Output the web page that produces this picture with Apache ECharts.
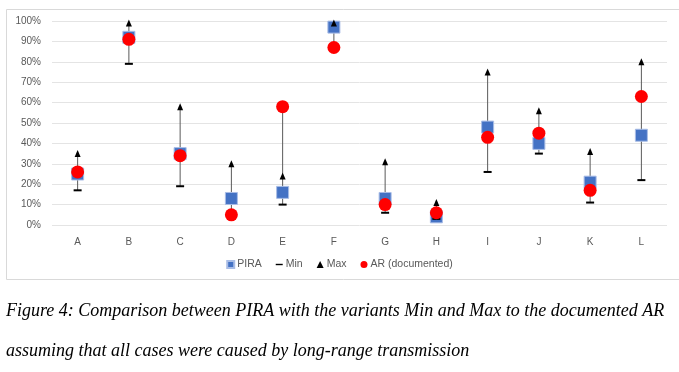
<!DOCTYPE html>
<html><head><meta charset="utf-8">
<script src="https://cdn.jsdelivr.net/npm/echarts@6/dist/echarts.min.js"></script>
<style>html,body{margin:0;padding:0;background:#fff}#c{width:679px;height:372px}</style>
</head><body><div id="c"></div>
<script>
var categories = ['A','B','C','D','E','F','G','H','I','J','K','L'];
var piraValues = [25, 92, 35, 13, 16, 97, 13, 4, 48, 40, 21, 44];
var minValues  = [17, 79, 19, 5, 10, 87, 6, 3, 26, 35, 11, 22];
var maxValues  = [35, 99, 58, 30, 24, 99, 31, 11, 75, 56, 36, 80];
var arValues   = [26, 91, 34, 5, 58, 87, 10, 6, 43, 45, 17, 63];
var yTicks = [0,10,20,30,40,50,60,70,80,90,100];

var hiLo = categories.map(function(c, i){
  var v = [piraValues[i], minValues[i], maxValues[i], arValues[i]];
  return [i, Math.min.apply(null, v), Math.max.apply(null, v)];
});

var chart = echarts.init(document.getElementById('c'));
var lab = {color:'#595959', fontFamily:'Liberation Sans', fontSize:10};
chart.setOption({
  animation:false,
  grid:{left:52, right:12, top:21, bottom:147},
  xAxis:{type:'category', data:categories, boundaryGap:true,
    axisLine:{show:false}, axisTick:{show:false},
    axisLabel:Object.assign({margin:12}, lab)},
  yAxis:{type:'value', min:yTicks[0], max:yTicks[yTicks.length-1], interval:10,
    axisLine:{show:false}, axisTick:{show:false},
    axisLabel:Object.assign({formatter:'{value}%', margin:11}, lab),
    splitLine:{lineStyle:{color:'#e4e4e4', width:1}}},
  legend:{bottom:97, left:'center', itemGap:14, itemWidth:7, itemHeight:7,
    textStyle:{color:'#595959', fontFamily:'Liberation Sans', fontSize:10.5, padding:[0,0,0,-2]},
    data:[
      {name:'PIRA', icon:'rect'},
      {name:'Min', icon:'path://M0,3.2 L8,3.2 L8,4.8 L0,4.8 Z'},
      {name:'Max', icon:'triangle'},
      {name:'AR (documented)', icon:'circle'}
    ]},
  graphic:[
    {type:'rect', shape:{x:6.5, y:9.5, width:690, height:270}, style:{fill:'none', stroke:'#d9d9d9', lineWidth:1}, z:-1},
    {type:'text', left:6, top:302, style:{text:'Figure 4: Comparison between PIRA with the variants Min and Max to the documented AR', font:'italic 18px "Liberation Serif"', fill:'#000'}},
    {type:'text', left:6, top:342, style:{text:'assuming that all cases were caused by long-range transmission', font:'italic 18px "Liberation Serif"', fill:'#000'}}
  ],
  series:[
    {type:'custom', name:'hilo', data:hiLo, z:1, silent:true,
      renderItem:function(params, api){
        var p1 = api.coord([api.value(0), api.value(1)]);
        var p2 = api.coord([api.value(0), api.value(2)]);
        return {type:'line', shape:{x1:p1[0], y1:p1[1], x2:p2[0], y2:p2[1]},
          style:{stroke:'#5a5a5a', lineWidth:1}};
      }},
    {type:'scatter', name:'PIRA', data:piraValues, symbol:'rect', symbolSize:12, z:2,
      itemStyle:{color:'#4472C4', borderColor:'#a9bde6', borderWidth:1, opacity:1}},
    {type:'scatter', name:'Min', data:minValues, symbol:'rect', symbolSize:[8,2], z:3,
      itemStyle:{color:'#000', opacity:1}},
    {type:'scatter', name:'Max', data:maxValues, symbol:'triangle', symbolSize:[6,7], z:4,
      itemStyle:{color:'#000', opacity:1}},
    {type:'scatter', name:'AR (documented)', data:arValues, symbol:'circle', symbolSize:13, z:5,
      itemStyle:{color:'#FF0000', opacity:1}}
  ]
});
</script></body></html>
